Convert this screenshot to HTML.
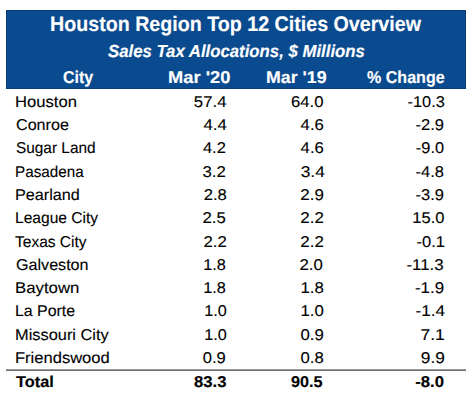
<!DOCTYPE html>
<html><head><meta charset="utf-8"><style>
html,body{margin:0;padding:0;background:#fff;}
body{width:474px;height:399px;position:relative;overflow:hidden;font-family:"Liberation Sans",sans-serif;text-rendering:geometricPrecision;}
.box{position:absolute;left:6px;top:10px;width:460px;height:79px;box-sizing:border-box;border:1px solid #093E78;background:#0A4B8F;}
.l1{position:absolute;left:6px;top:369px;width:460px;height:1px;background:#9a9a9a;}
.l2{position:absolute;left:6px;top:370px;width:460px;height:1px;background:#6e6e6e;}
.t{position:absolute;line-height:1;white-space:nowrap;-webkit-text-stroke:0.12px currentColor;}
.b{-webkit-text-stroke:0.15px currentColor;}
</style></head><body>
<div class="box"></div>
<div class="l1"></div><div class="l2"></div>
<div class="t b" style="left:50.41px;top:13.62px;font-size:21px;font-weight:bold;font-style:normal;color:#fff;transform:scaleX(0.9359);transform-origin:0 0">Houston Region Top 12 Cities Overview</div>
<div class="t b" style="left:107.71px;top:43.37px;font-size:17.4px;font-weight:bold;font-style:italic;color:#fff;transform:scaleX(0.9642);transform-origin:0 0">Sales Tax Allocations, $ Millions</div>
<div class="t b" style="left:63.17px;top:68.63px;font-size:17.15px;font-weight:bold;font-style:normal;color:#fff;transform:scaleX(0.9338);transform-origin:0 0">City</div>
<div class="t b" style="left:167.59px;top:68.63px;font-size:17.15px;font-weight:bold;font-style:normal;color:#fff;transform:scaleX(1.0677);transform-origin:0 0">Mar '20</div>
<div class="t b" style="left:265.99px;top:68.63px;font-size:17.15px;font-weight:bold;font-style:normal;color:#fff;transform:scaleX(1.0368);transform-origin:0 0">Mar '19</div>
<div class="t b" style="left:366.69px;top:68.63px;font-size:17.15px;font-weight:bold;font-style:normal;color:#fff;transform:scaleX(0.9368);transform-origin:0 0">% Change</div>
<div class="t" style="left:15.18px;top:94.96px;font-size:15.7px;font-weight:normal;font-style:normal;color:#000;transform:scaleX(1.0591);transform-origin:0 0">Houston</div>
<div class="t" style="right:247.26px;top:94.96px;font-size:15.7px;font-weight:normal;font-style:normal;color:#000;transform:scaleX(1.0705);transform-origin:100% 0">57.4</div>
<div class="t" style="right:150.14px;top:94.96px;font-size:15.7px;font-weight:normal;font-style:normal;color:#000;transform:scaleX(1.0643);transform-origin:100% 0">64.0</div>
<div class="t" style="right:29.64px;top:94.96px;font-size:15.7px;font-weight:normal;font-style:normal;color:#000;transform:scaleX(1.0402);transform-origin:100% 0">-10.3</div>
<div class="t" style="left:15.74px;top:118.44px;font-size:15.7px;font-weight:normal;font-style:normal;color:#000;transform:scaleX(1.0280);transform-origin:0 0">Conroe</div>
<div class="t" style="right:247.68px;top:118.44px;font-size:15.7px;font-weight:normal;font-style:normal;color:#000;transform:scaleX(1.0696);transform-origin:100% 0">4.4</div>
<div class="t" style="right:150.58px;top:118.44px;font-size:15.7px;font-weight:normal;font-style:normal;color:#000;transform:scaleX(1.0636);transform-origin:100% 0">4.6</div>
<div class="t" style="right:29.53px;top:118.44px;font-size:15.7px;font-weight:normal;font-style:normal;color:#000;transform:scaleX(1.0528);transform-origin:100% 0">-2.9</div>
<div class="t" style="left:15.61px;top:141.12px;font-size:15.7px;font-weight:normal;font-style:normal;color:#000;transform:scaleX(0.9807);transform-origin:0 0">Sugar Land</div>
<div class="t" style="right:247.79px;top:141.12px;font-size:15.7px;font-weight:normal;font-style:normal;color:#000;transform:scaleX(1.0506);transform-origin:100% 0">4.2</div>
<div class="t" style="right:150.58px;top:141.12px;font-size:15.7px;font-weight:normal;font-style:normal;color:#000;transform:scaleX(1.0636);transform-origin:100% 0">4.6</div>
<div class="t" style="right:29.65px;top:141.12px;font-size:15.7px;font-weight:normal;font-style:normal;color:#000;transform:scaleX(1.0434);transform-origin:100% 0">-9.0</div>
<div class="t" style="left:15.05px;top:164.84px;font-size:15.7px;font-weight:normal;font-style:normal;color:#000;transform:scaleX(0.9710);transform-origin:0 0">Pasadena</div>
<div class="t" style="right:248.07px;top:164.84px;font-size:15.7px;font-weight:normal;font-style:normal;color:#000;transform:scaleX(1.0683);transform-origin:100% 0">3.2</div>
<div class="t" style="right:149.41px;top:164.84px;font-size:15.7px;font-weight:normal;font-style:normal;color:#000;transform:scaleX(1.1060);transform-origin:100% 0">3.4</div>
<div class="t" style="right:29.63px;top:164.84px;font-size:15.7px;font-weight:normal;font-style:normal;color:#000;transform:scaleX(1.0513);transform-origin:100% 0">-4.8</div>
<div class="t" style="left:15.39px;top:187.68px;font-size:15.7px;font-weight:normal;font-style:normal;color:#000;transform:scaleX(1.0319);transform-origin:0 0">Pearland</div>
<div class="t" style="right:247.68px;top:187.68px;font-size:15.7px;font-weight:normal;font-style:normal;color:#000;transform:scaleX(1.0615);transform-origin:100% 0">2.8</div>
<div class="t" style="right:150.41px;top:187.68px;font-size:15.7px;font-weight:normal;font-style:normal;color:#000;transform:scaleX(1.0774);transform-origin:100% 0">2.9</div>
<div class="t" style="right:29.53px;top:187.68px;font-size:15.7px;font-weight:normal;font-style:normal;color:#000;transform:scaleX(1.0528);transform-origin:100% 0">-3.9</div>
<div class="t" style="left:14.96px;top:210.98px;font-size:15.7px;font-weight:normal;font-style:normal;color:#000;transform:scaleX(0.9928);transform-origin:0 0">League City</div>
<div class="t" style="right:247.82px;top:210.98px;font-size:15.7px;font-weight:normal;font-style:normal;color:#000;transform:scaleX(1.0696);transform-origin:100% 0">2.5</div>
<div class="t" style="right:150.24px;top:210.98px;font-size:15.7px;font-weight:normal;font-style:normal;color:#000;transform:scaleX(1.0774);transform-origin:100% 0">2.2</div>
<div class="t" style="right:29.70px;top:210.98px;font-size:15.7px;font-weight:normal;font-style:normal;color:#000;transform:scaleX(1.0552);transform-origin:100% 0">15.0</div>
<div class="t" style="left:15.37px;top:234.62px;font-size:15.7px;font-weight:normal;font-style:normal;color:#000;transform:scaleX(0.9886);transform-origin:0 0">Texas City</div>
<div class="t" style="right:247.43px;top:234.62px;font-size:15.7px;font-weight:normal;font-style:normal;color:#000;transform:scaleX(1.0657);transform-origin:100% 0">2.2</div>
<div class="t" style="right:150.24px;top:234.62px;font-size:15.7px;font-weight:normal;font-style:normal;color:#000;transform:scaleX(1.0774);transform-origin:100% 0">2.2</div>
<div class="t" style="right:29.43px;top:234.62px;font-size:15.7px;font-weight:normal;font-style:normal;color:#000;transform:scaleX(1.0526);transform-origin:100% 0">-0.1</div>
<div class="t" style="left:15.74px;top:257.85px;font-size:15.7px;font-weight:normal;font-style:normal;color:#000;transform:scaleX(1.0271);transform-origin:0 0">Galveston</div>
<div class="t" style="right:247.88px;top:257.85px;font-size:15.7px;font-weight:normal;font-style:normal;color:#000;transform:scaleX(1.0383);transform-origin:100% 0">1.8</div>
<div class="t" style="right:150.79px;top:257.85px;font-size:15.7px;font-weight:normal;font-style:normal;color:#000;transform:scaleX(1.0700);transform-origin:100% 0">2.0</div>
<div class="t" style="right:30.04px;top:257.85px;font-size:15.7px;font-weight:normal;font-style:normal;color:#000;transform:scaleX(1.0750);transform-origin:100% 0">-11.3</div>
<div class="t" style="left:15.10px;top:281.09px;font-size:15.7px;font-weight:normal;font-style:normal;color:#000;transform:scaleX(1.0699);transform-origin:0 0">Baytown</div>
<div class="t" style="right:247.88px;top:281.09px;font-size:15.7px;font-weight:normal;font-style:normal;color:#000;transform:scaleX(1.0383);transform-origin:100% 0">1.8</div>
<div class="t" style="right:150.48px;top:281.09px;font-size:15.7px;font-weight:normal;font-style:normal;color:#000;transform:scaleX(1.0736);transform-origin:100% 0">1.8</div>
<div class="t" style="right:29.55px;top:281.09px;font-size:15.7px;font-weight:normal;font-style:normal;color:#000;transform:scaleX(1.0768);transform-origin:100% 0">-1.9</div>
<div class="t" style="left:15.49px;top:304.43px;font-size:15.7px;font-weight:normal;font-style:normal;color:#000;transform:scaleX(1.0139);transform-origin:0 0">La Porte</div>
<div class="t" style="right:247.55px;top:304.43px;font-size:15.7px;font-weight:normal;font-style:normal;color:#000;transform:scaleX(1.0341);transform-origin:100% 0">1.0</div>
<div class="t" style="right:150.20px;top:304.43px;font-size:15.7px;font-weight:normal;font-style:normal;color:#000;transform:scaleX(1.0705);transform-origin:100% 0">1.0</div>
<div class="t" style="right:28.85px;top:304.43px;font-size:15.7px;font-weight:normal;font-style:normal;color:#000;transform:scaleX(1.0918);transform-origin:100% 0">-1.4</div>
<div class="t" style="left:15.27px;top:327.63px;font-size:15.7px;font-weight:normal;font-style:normal;color:#000;transform:scaleX(1.0443);transform-origin:0 0">Missouri City</div>
<div class="t" style="right:247.55px;top:327.63px;font-size:15.7px;font-weight:normal;font-style:normal;color:#000;transform:scaleX(1.0341);transform-origin:100% 0">1.0</div>
<div class="t" style="right:150.11px;top:327.63px;font-size:15.7px;font-weight:normal;font-style:normal;color:#000;transform:scaleX(1.0698);transform-origin:100% 0">0.9</div>
<div class="t" style="right:29.31px;top:327.63px;font-size:15.7px;font-weight:normal;font-style:normal;color:#000;transform:scaleX(1.1185);transform-origin:100% 0">7.1</div>
<div class="t" style="left:15.19px;top:351.44px;font-size:15.7px;font-weight:normal;font-style:normal;color:#000;transform:scaleX(1.0544);transform-origin:0 0">Friendswood</div>
<div class="t" style="right:247.95px;top:351.44px;font-size:15.7px;font-weight:normal;font-style:normal;color:#000;transform:scaleX(1.0567);transform-origin:100% 0">0.9</div>
<div class="t" style="right:150.18px;top:351.44px;font-size:15.7px;font-weight:normal;font-style:normal;color:#000;transform:scaleX(1.0661);transform-origin:100% 0">0.8</div>
<div class="t" style="right:29.42px;top:351.44px;font-size:15.7px;font-weight:normal;font-style:normal;color:#000;transform:scaleX(1.1020);transform-origin:100% 0">9.9</div>
<div class="t b" style="left:15.51px;top:375.46px;font-size:15.7px;font-weight:bold;font-style:normal;color:#000;transform:scaleX(1.0402);transform-origin:0 0">Total</div>
<div class="t b" style="right:247.77px;top:375.46px;font-size:15.7px;font-weight:bold;font-style:normal;color:#000;transform:scaleX(1.0641);transform-origin:100% 0">83.3</div>
<div class="t b" style="right:151.05px;top:375.46px;font-size:15.7px;font-weight:bold;font-style:normal;color:#000;transform:scaleX(1.0344);transform-origin:100% 0">90.5</div>
<div class="t b" style="right:29.68px;top:375.46px;font-size:15.7px;font-weight:bold;font-style:normal;color:#000;transform:scaleX(1.0667);transform-origin:100% 0">-8.0</div>
</body></html>
